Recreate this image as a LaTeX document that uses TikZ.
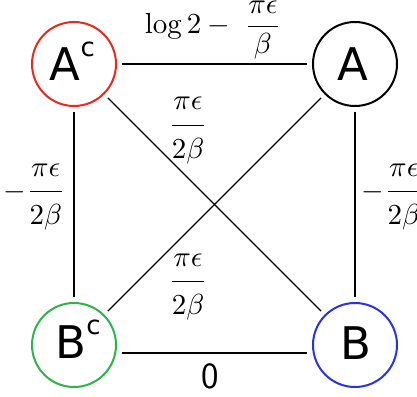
\documentclass[tikz,border=0pt]{standalone}
\usepackage{amsmath}
\usepackage{graphicx}
\usepackage{fontspec}
\newfontfamily\nodefont{DejaVu Sans}
\definecolor{cred}{RGB}{235,40,25}
\definecolor{cgreen}{RGB}{45,180,75}
\definecolor{cblue}{RGB}{40,50,230}
\newcommand{\supc}{\raisebox{23.5pt}{\fontsize{26}{26}\selectfont c}}
\newcommand{\spfrac}[2]{\dfrac{\raisebox{1pt}{$#1$}}{\raisebox{-2pt}{$#2$}}}
\newcommand{\bigmath}[1]{\scalebox{2.9}{$#1$}}
\begin{document}
\begin{tikzpicture}[x=1pt,y=-1pt,
  state/.style={circle,draw,line width=2pt,minimum size=84pt,inner sep=0pt,outer sep=6pt},
  edge/.style={line width=1.3pt},
  nodetxt/.style={font=\nodefont\fontsize{45}{50}\selectfont,inner sep=0pt,anchor=base},
  lab/.style={font=\fontsize{10}{12}\selectfont,inner sep=0pt,anchor=base}]
\useasboundingbox (0,0) rectangle (417,396);
\node[state,draw=cred] (ac) at (74,64) {};
\node[state,draw=black] (a) at (355,64) {};
\node[state,draw=cgreen] (bc) at (74,345) {};
\node[state,draw=cblue] (b) at (355,345) {};
\node[nodetxt] (actxt) at (72.5,80) {A\supc};
\node[nodetxt] (atxt) at (353,80) {A};
\node[nodetxt] (btxt) at (355.5,359) {B};
\node[nodetxt] (bctxt) at (78,358) {B\supc};
\draw[edge] (ac) -- (a);
\draw[edge] ([yshift=-8pt]bc.east) -- ([yshift=-8pt]b.west);
\draw[edge] (ac) -- (bc);
\draw[edge] (a) -- (b);
\draw[edge] (ac) -- (b);
\draw[edge] (a) -- (bc);
\node[lab] (l1) at (213,33.5) {\bigmath{\log 2-\;\dfrac{\pi\epsilon}{\beta}}};
\node[lab] (l2) at (188,132.5) {\bigmath{\spfrac{\pi\epsilon}{2\beta}}};
\node[lab] (l3) at (188,289) {\bigmath{\spfrac{\pi\epsilon}{2\beta}}};
\node[lab] (l4) at (34.5,199) {\bigmath{-\spfrac{\pi\epsilon}{2\beta}}};
\node[lab] (l5) at (392.6,199) {\bigmath{-\spfrac{\pi\epsilon}{2\beta}}};
\node[inner sep=0pt,anchor=base,font=\sffamily\fontsize{37}{40}\selectfont] (l6) at (209.7,388) {0};
\end{tikzpicture}
\end{document}
